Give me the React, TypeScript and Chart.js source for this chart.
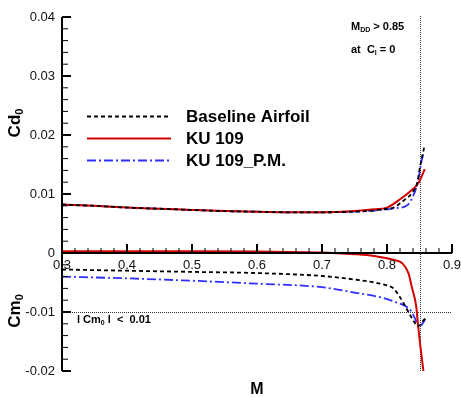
import { useEffect, useRef } from 'react';
import { Chart, registerables } from 'chart.js';

Chart.register(...registerables);

// ---------------- data ----------------
const seriesNames = ['Baseline Airfoil', 'KU 109', 'KU 109_P.M.'];

const machCdBaseline = [0.30, 0.35, 0.40, 0.45, 0.50, 0.55, 0.60, 0.65, 0.70, 0.75, 0.78, 0.80, 0.81, 0.828, 0.838, 0.847, 0.850, 0.853, 0.858];
const cd0Baseline = [0.0082, 0.0080, 0.0077, 0.0075, 0.0073, 0.0071, 0.0070, 0.0069, 0.0069, 0.0070, 0.0072, 0.0075, 0.0077, 0.0091, 0.0101, 0.0121, 0.0141, 0.0158, 0.0183];

const machCdKU = [0.30, 0.35, 0.40, 0.45, 0.50, 0.55, 0.60, 0.65, 0.70, 0.75, 0.78, 0.80, 0.82, 0.835, 0.846, 0.851, 0.858];
const cd0KU = [0.0082, 0.0080, 0.0077, 0.0075, 0.0073, 0.0071, 0.0070, 0.0069, 0.0069, 0.0071, 0.0074, 0.0077, 0.0091, 0.0104, 0.0115, 0.0124, 0.0142];

const machCdPM = [0.30, 0.35, 0.40, 0.45, 0.50, 0.55, 0.60, 0.65, 0.70, 0.75, 0.78, 0.80, 0.814, 0.830, 0.843, 0.848, 0.853, 0.857];
const cd0PM = [0.0082, 0.0080, 0.0077, 0.0075, 0.0073, 0.0071, 0.0070, 0.0069, 0.0069, 0.0070, 0.0072, 0.0074, 0.0076, 0.0080, 0.0104, 0.0124, 0.0155, 0.0172];

const machCmBaseline = [0.30, 0.40, 0.50, 0.60, 0.70, 0.75, 0.80, 0.81, 0.82, 0.83, 0.837, 0.842, 0.847, 0.852, 0.857, 0.861];
const cm0Baseline = [-0.0028, -0.0030, -0.0032, -0.0034, -0.0039, -0.0045, -0.0055, -0.0060, -0.0075, -0.0094, -0.0108, -0.0117, -0.0124, -0.0121, -0.0113, -0.0110];

const machCmKU = [0.30, 0.40, 0.50, 0.60, 0.70, 0.75, 0.78, 0.80, 0.815, 0.823, 0.833, 0.838, 0.845, 0.848, 0.852, 0.856];
const cm0KU = [0.0003, 0.0003, 0.0003, 0.00025, 0.0001, -0.0002, -0.0005, -0.0009, -0.0013, -0.0017, -0.0034, -0.0057, -0.0091, -0.0125, -0.0164, -0.0200];

const machCmPM = [0.30, 0.40, 0.50, 0.60, 0.70, 0.75, 0.80, 0.815, 0.830, 0.838, 0.843, 0.847, 0.851, 0.855, 0.859];
const cm0PM = [-0.0040, -0.0043, -0.0047, -0.0052, -0.0058, -0.0067, -0.0078, -0.0084, -0.0091, -0.0100, -0.0111, -0.0122, -0.0125, -0.0119, -0.0112];

const xTickValues = [0.3, 0.4, 0.5, 0.6, 0.7, 0.8, 0.9];
const xTickLabels = ['0.3', '0.4', '0.5', '0.6', '0.7', '0.8', '0.9'];
const yTickValues = [0.04, 0.03, 0.02, 0.01, 0, -0.01, -0.02];
const yTickLabels = ['0.04', '0.03', '0.02', '0.01', '0', '-0.01', '-0.02'];

const mddValue = 0.85;
const cmLimit = -0.01;

// ---------------- styles ----------------
const COLORS = ['#000000', '#d40000', '#2f2fff'];
const DASHES: number[][] = [[4, 3], [], [9, 3, 2, 3]];
const WIDTHS = [1.8, 2, 1.8];
const FONT = '"Liberation Sans", Arial, Helvetica, sans-serif';

function pts(xs: number[], ys: number[]) {
  return xs.map((x, i) => ({ x, y: ys[i] }));
}

function drawSubText(
  ctx: CanvasRenderingContext2D,
  parts: { t: string; size: number; dy?: number }[],
  x: number,
  y: number,
  bold = true
) {
  let cx = x;
  for (const p of parts) {
    ctx.font = `${bold ? 'bold ' : ''}${p.size}px ${FONT}`;
    ctx.fillText(p.t, cx, y + (p.dy || 0));
    cx += ctx.measureText(p.t).width;
  }
  return cx - x;
}

function measureParts(ctx: CanvasRenderingContext2D, parts: { t: string; size: number }[], bold = true) {
  let w = 0;
  for (const p of parts) {
    ctx.font = `${bold ? 'bold ' : ''}${p.size}px ${FONT}`;
    w += ctx.measureText(p.t).width;
  }
  return w;
}

const decorPlugin = {
  id: 'decor',
  beforeDatasetsDraw(chart: any) {
    const { ctx, chartArea } = chart;
    const xs = chart.scales.x;
    const ys = chart.scales.y;
    ctx.save();
    ctx.strokeStyle = '#333';
    ctx.lineWidth = 1;
    ctx.setLineDash([1, 1]);
    const vx = Math.round(xs.getPixelForValue(mddValue)) + 0.5;
    ctx.beginPath();
    ctx.moveTo(vx, chartArea.top - 1);
    ctx.lineTo(vx, chartArea.bottom + 1);
    ctx.stroke();
    const hy = Math.round(ys.getPixelForValue(cmLimit)) + 0.5;
    ctx.beginPath();
    ctx.moveTo(chartArea.left, hy);
    ctx.lineTo(xs.getPixelForValue(0.9), hy);
    ctx.stroke();
    ctx.restore();
  },
  afterDatasetsDraw(chart: any) {
    const { ctx, chartArea } = chart;
    const xs = chart.scales.x;
    const ys = chart.scales.y;
    ctx.save();
    ctx.setLineDash([]);
    ctx.strokeStyle = '#000';
    ctx.fillStyle = '#000';

    // Y axis line
    const left = chartArea.left;
    const yTop = ys.getPixelForValue(0.04);
    const yBot = ys.getPixelForValue(-0.02);
    ctx.lineWidth = 2;
    ctx.beginPath();
    ctx.moveTo(left, yTop);
    ctx.lineTo(left, yBot);
    ctx.stroke();
    // Y ticks
    for (let k = -10; k <= 20; k++) {
      const v = k * 0.002;
      const py = ys.getPixelForValue(v);
      const major = k % 5 === 0;
      ctx.lineWidth = major ? 2 : 1;
      ctx.beginPath();
      ctx.moveTo(left, py);
      ctx.lineTo(left + (major ? 9 : 6), py);
      ctx.stroke();
    }
    // X axis line at y=0
    const y0 = ys.getPixelForValue(0);
    const xL = xs.getPixelForValue(0.3);
    const xR = xs.getPixelForValue(0.9);
    ctx.lineWidth = 2;
    ctx.beginPath();
    ctx.moveTo(xL, y0);
    ctx.lineTo(xR, y0);
    ctx.stroke();
    for (let k = 15; k <= 45; k++) {
      const v = k * 0.02;
      const px = xs.getPixelForValue(v);
      const major = k % 5 === 0;
      ctx.lineWidth = major ? 2 : 1;
      ctx.beginPath();
      ctx.moveTo(px, y0);
      ctx.lineTo(px, y0 - (major ? 9 : 5));
      ctx.stroke();
    }

    // tick labels
    ctx.fillStyle = '#111';
    ctx.font = `13px ${FONT}`;
    ctx.textAlign = 'right';
    ctx.textBaseline = 'middle';
    yTickValues.forEach((v, i) => {
      ctx.fillText(yTickLabels[i], left - 7, ys.getPixelForValue(v));
    });
    ctx.textAlign = 'center';
    ctx.textBaseline = 'top';
    xTickValues.forEach((v, i) => {
      ctx.fillText(xTickLabels[i], xs.getPixelForValue(v), y0 + 6);
    });

    ctx.fillStyle = '#000';
    ctx.textAlign = 'left';
    ctx.textBaseline = 'alphabetic';

    // axis titles (rotated)
    const rotLabel = (main: string, cy: number) => {
      const parts = [
        { t: main, size: 17 },
        { t: '0', size: 11, dy: 3 },
      ];
      const w = measureParts(ctx, parts);
      ctx.save();
      ctx.translate(20, cy);
      ctx.rotate(-Math.PI / 2);
      drawSubText(ctx, parts, -w / 2, 0);
      ctx.restore();
    };
    rotLabel('Cd', 123);
    rotLabel('Cm', 311);

    // X title
    ctx.font = `bold 16px ${FONT}`;
    ctx.textAlign = 'center';
    ctx.fillText('M', (xL + xR) / 2, 394);
    ctx.textAlign = 'left';

    // annotations
    drawSubText(ctx, [
      { t: 'M', size: 11 },
      { t: 'DD', size: 7, dy: 2 },
      { t: ' > 0.85', size: 11 },
    ], 351, 30);
    drawSubText(ctx, [
      { t: 'at  C', size: 11 },
      { t: 'l', size: 7, dy: 2 },
      { t: ' = 0', size: 11 },
    ], 351, 53);
    drawSubText(ctx, [
      { t: 'l Cm', size: 11 },
      { t: '0', size: 7, dy: 2 },
      { t: ' l  <  0.01', size: 11 },
    ], 77, 323);

    // legend
    const rows = [116.5, 138.5, 160.5];
    rows.forEach((ry, i) => {
      ctx.save();
      ctx.strokeStyle = COLORS[i];
      ctx.lineWidth = WIDTHS[i];
      ctx.setLineDash(DASHES[i]);
      ctx.beginPath();
      ctx.moveTo(87, ry);
      ctx.lineTo(171, ry);
      ctx.stroke();
      ctx.restore();
      ctx.font = `bold 17px ${FONT}`;
      ctx.textBaseline = 'middle';
      ctx.fillText(seriesNames[i], 186, ry + 1);
    });

    ctx.restore();
  },
};

function ds(label: string, data: { x: number; y: number }[], i: number) {
  return {
    label,
    data,
    borderColor: COLORS[i],
    backgroundColor: COLORS[i],
    borderWidth: WIDTHS[i],
    borderDash: DASHES[i],
    pointRadius: 0,
    fill: false,
    cubicInterpolationMode: 'monotone' as const,
  };
}

export default function App() {
  const ref = useRef<HTMLCanvasElement | null>(null);
  useEffect(() => {
    document.body.style.margin = '0';
    const canvas = ref.current;
    if (!canvas) return;
    const chart = new Chart(canvas, {
      type: 'line',
      data: {
        datasets: [
          ds('Cd0 ' + seriesNames[0], pts(machCdBaseline, cd0Baseline), 0),
          ds('Cd0 ' + seriesNames[1], pts(machCdKU, cd0KU), 1),
          ds('Cd0 ' + seriesNames[2], pts(machCdPM, cd0PM), 2),
          ds('Cm0 ' + seriesNames[0], pts(machCmBaseline, cm0Baseline), 0),
          ds('Cm0 ' + seriesNames[1], pts(machCmKU, cm0KU), 1),
          ds('Cm0 ' + seriesNames[2], pts(machCmPM, cm0PM), 2),
        ],
      },
      options: {
        responsive: false,
        animation: false,
        devicePixelRatio: 1,
        layout: { padding: { left: 62, right: 9, top: 17, bottom: 26 } },
        plugins: { legend: { display: false }, tooltip: { enabled: false } },
        scales: {
          x: { type: 'linear', min: 0.3, max: 0.9, display: false },
          y: { type: 'linear', min: -0.02, max: 0.04, display: false },
        },
      },
      plugins: [decorPlugin],
    });
    return () => chart.destroy();
  }, []);
  return (
    <div style={{ width: 461, height: 397, background: '#fff' }}>
      <canvas ref={ref} width={461} height={397} style={{ display: 'block' }} />
    </div>
  );
}
